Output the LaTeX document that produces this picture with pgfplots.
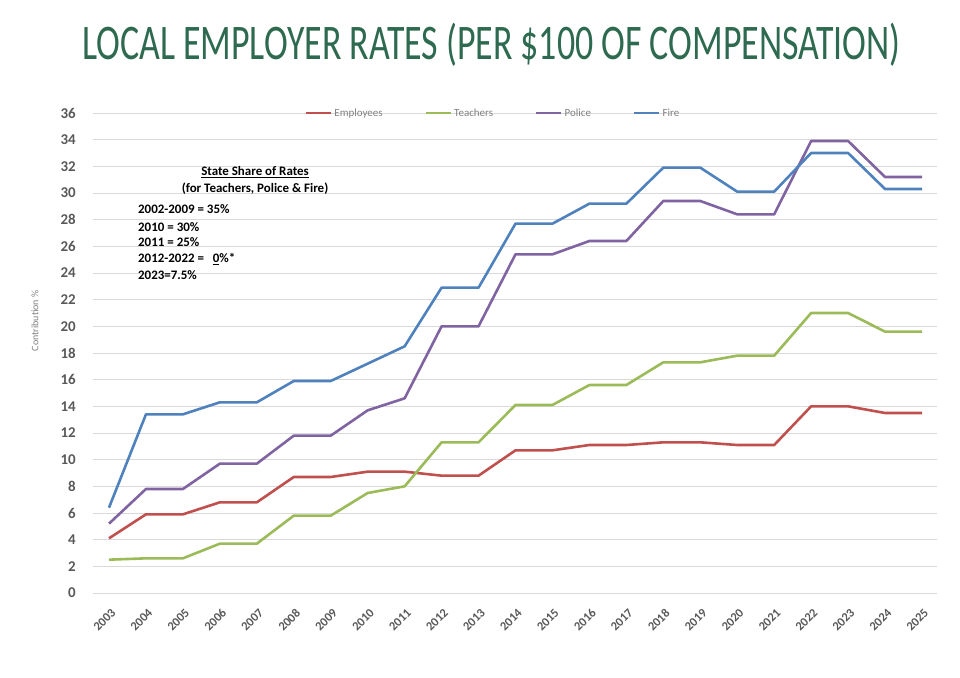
\documentclass[border=0pt]{standalone}
\usepackage{pgfplots}
\pgfplotsset{compat=1.18}
\usepackage{fontspec}
\setmainfont{Carlito}
\newfontfamily\titlefont[FakeStretch=0.72]{Carlito}
\definecolor{emp}{HTML}{C0504D}
\definecolor{tea}{HTML}{9BBB59}
\definecolor{pol}{HTML}{8064A2}
\definecolor{fir}{HTML}{4F81BD}
\definecolor{titlegreen}{RGB}{45,106,79}
\definecolor{tickgray}{HTML}{595959}
\definecolor{leggray}{HTML}{808080}
\begin{document}
\begin{tikzpicture}
\begin{axis}[
  name=ax,
  scale only axis,
  width=844bp, height=480bp,
  xmin=2002.567, xmax=2025.406,
  ymin=0, ymax=36,
  ytick={0,2,...,36},
  xtick={2003,2004,...,2025},
  ymajorgrids,
  grid style={draw=black!15, line width=0.8bp},
  axis line style={draw=none},
  tick style={draw=none},
  major tick length=0pt,
  /pgf/number format/assume math mode=true,
  /pgf/number format/1000 sep={},
  yticklabel style={font=\fontsize{15}{15}\selectfont\bfseries, text=tickgray, inner sep=0pt, anchor=east, xshift=-17bp},
  xticklabel style={font=\fontsize{12.5}{12.5}\selectfont\bfseries, text=tickgray, inner sep=0pt, rotate=45, anchor=east, xshift=-9.5bp, yshift=-15.9bp},
  ylabel={Contribution \%},
  ylabel style={at={(axis description cs:-0.0687,0.567)}, anchor=center, font=\fontsize{10}{10}\selectfont, text=leggray},
  legend style={at={(rel axis cs:0.474,1)}, anchor=center, draw=none, fill=none,
    font=\fontsize{11}{11}\selectfont, text=leggray,
    /tikz/every even column/.append style={column sep=40bp}},
  legend columns=4,
  legend image code/.code={\draw[#1, line width=2.6bp] (0,0) -- (25bp,0);},
  every axis plot/.append style={line width=2.6bp, line join=round, mark=none},
  clip=false,
]
\addplot[emp] coordinates {(2003,4.1)(2004,5.9)(2005,5.9)(2006,6.8)(2007,6.8)(2008,8.7)(2009,8.7)(2010,9.1)(2011,9.1)(2012,8.8)(2013,8.8)(2014,10.7)(2015,10.7)(2016,11.1)(2017,11.1)(2018,11.3)(2019,11.3)(2020,11.1)(2021,11.1)(2022,14.0)(2023,14.0)(2024,13.5)(2025,13.5)};
\addlegendentry{Employees}
\addplot[tea] coordinates {(2003,2.5)(2004,2.6)(2005,2.6)(2006,3.7)(2007,3.7)(2008,5.8)(2009,5.8)(2010,7.5)(2011,8.0)(2012,11.3)(2013,11.3)(2014,14.1)(2015,14.1)(2016,15.6)(2017,15.6)(2018,17.3)(2019,17.3)(2020,17.8)(2021,17.8)(2022,21.0)(2023,21.0)(2024,19.6)(2025,19.6)};
\addlegendentry{Teachers}
\addplot[pol] coordinates {(2003,5.2)(2004,7.8)(2005,7.8)(2006,9.7)(2007,9.7)(2008,11.8)(2009,11.8)(2010,13.7)(2011,14.6)(2012,20.0)(2013,20.0)(2014,25.4)(2015,25.4)(2016,26.4)(2017,26.4)(2018,29.4)(2019,29.4)(2020,28.4)(2021,28.4)(2022,33.9)(2023,33.9)(2024,31.2)(2025,31.2)};
\addlegendentry{Police}
\addplot[fir] coordinates {(2003,6.4)(2004,13.4)(2005,13.4)(2006,14.3)(2007,14.3)(2008,15.9)(2009,15.9)(2010,17.2)(2011,18.5)(2012,22.9)(2013,22.9)(2014,27.7)(2015,27.7)(2016,29.2)(2017,29.2)(2018,31.9)(2019,31.9)(2020,30.1)(2021,30.1)(2022,33.0)(2023,33.0)(2024,30.3)(2025,30.3)};
\addlegendentry{Fire}
\begin{scope}[every node/.style={font=\fontsize{13}{13}\selectfont\bfseries, inner sep=0pt}]
\node[anchor=base] at (rel axis cs:0.192,0.869) {\underline{State Share of Rates}};
\node[anchor=base] at (rel axis cs:0.192,0.835) {(for Teachers, Police \& Fire)};
\node[anchor=base west] at (rel axis cs:0.0533,0.790) {2002-2009 = 35\%};
\node[anchor=base west] at (rel axis cs:0.0533,0.754) {2010 = 30\%};
\node[anchor=base west] at (rel axis cs:0.0533,0.721) {2011 = 25\%};
\node[anchor=base west] at (rel axis cs:0.0533,0.6875) {2012-2022 = \ \ \underline{0}\%*};
\node[anchor=base west] at (rel axis cs:0.0533,0.654) {2023=7.5\%};
\end{scope}
\end{axis}
\node[anchor=base, text=titlegreen, inner sep=0pt, font=\titlefont\fontsize{50}{50}\selectfont] at ([xshift=398.5bp,yshift=533bp]ax.south west) {LOCAL EMPLOYER RATES (PER \$100 OF COMPENSATION)};
\path (ax.south west) ++(-93bp,-85bp) rectangle ++(960bp,678bp);
\end{tikzpicture}
\end{document}
